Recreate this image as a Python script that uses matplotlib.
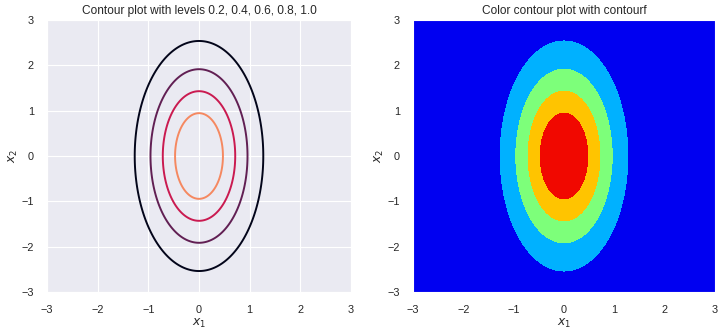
import matplotlib
matplotlib.use("Agg")
import matplotlib.pyplot as plt
import numpy as np
import seaborn as sns

sns.set_style("darkgrid")
plt.rcParams['font.family'] = ['Liberation Sans', 'DejaVu Sans']

# 2D gaussian (zero mean, diagonal covariance)
mean = [0.0, 0.0]
variances = [0.5, 2.0]
levels = [0.2, 0.4, 0.6, 0.8, 1.0]
fill_levels = [0.0, 0.2, 0.4, 0.6, 0.8, 1.0]
lim = [-3, 3]
ticks = [-3, -2, -1, 0, 1, 2, 3]

x1 = np.linspace(lim[0], lim[1], 400)
x2 = np.linspace(lim[0], lim[1], 400)
X1, X2 = np.meshgrid(x1, x2)
Z = np.exp(-0.5 * ((X1 - mean[0])**2 / variances[0] + (X2 - mean[1])**2 / variances[1]))

fig = plt.figure(figsize=(7.26, 3.36), dpi=100)
ax1 = fig.add_axes([47/726, 1-292/336, 304/726, 272/336])
ax2 = fig.add_axes([413/726, 1-292/336, 302/726, 272/336])

ax1.contour(X1, X2, Z, levels=levels, cmap='rocket', linewidths=1.4)
ax1.set_title('Contour plot with levels 0.2, 0.4, 0.6, 0.8, 1.0', fontsize=8.6, pad=4)

ax2.contourf(X1, X2, Z, levels=fill_levels, cmap='jet')
ax2.set_title('Color contour plot with contourf', fontsize=8.6, pad=4)

for ax in (ax1, ax2):
    ax.set_xlim(lim)
    ax.set_ylim(lim)
    ax.set_xticks(ticks)
    ax.set_yticks(ticks)
    ax.tick_params(labelsize=7.8, pad=6)
    ax.set_xlabel('$x_1$', fontsize=8.8, labelpad=1)
    ax.set_ylabel('$x_2$', fontsize=8.8, labelpad=1)

plt.savefig('out.png', dpi=100)
